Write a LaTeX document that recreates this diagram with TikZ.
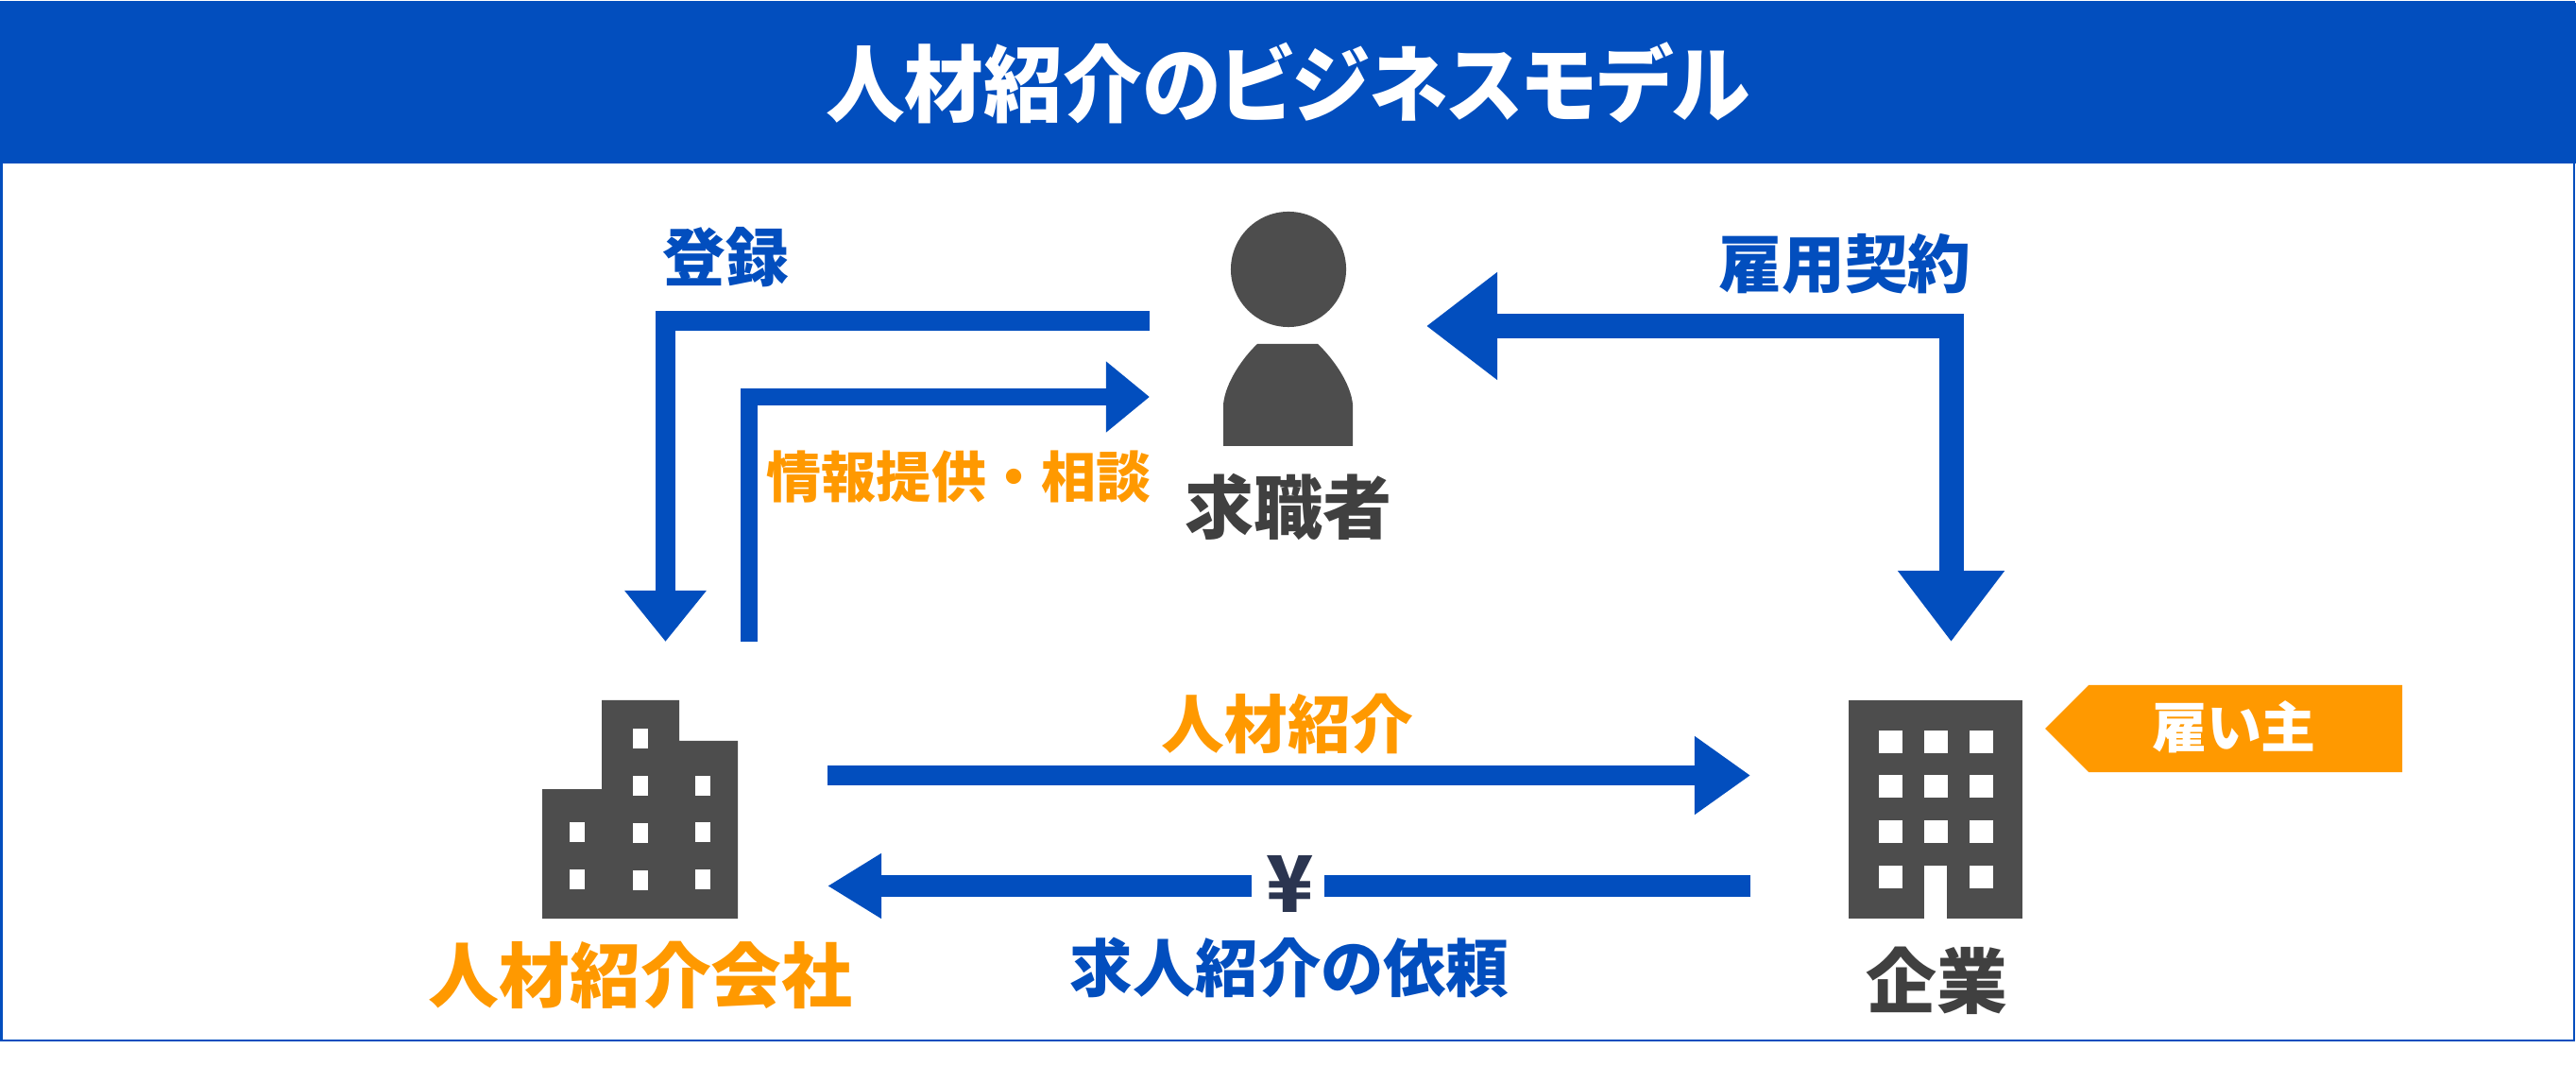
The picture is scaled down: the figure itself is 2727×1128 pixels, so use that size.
\documentclass[tikz,border=0pt]{standalone}
\usepackage{fontspec}
\setmainfont{Noto Sans CJK JP}
\newfontfamily\paltfont{Noto Sans CJK JP}[RawFeature=+palt]
\newfontfamily\titlefont{Noto Sans CJK JP}[RawFeature=+palt,FakeStretch=0.945]
\usetikzlibrary{arrows.meta}
\definecolor{mainblue}{HTML}{024EBE}
\definecolor{mainorange}{HTML}{FF9900}
\definecolor{icongray}{HTML}{4D4D4D}
\definecolor{textgray}{HTML}{404040}
\definecolor{yennavy}{HTML}{2B3550}

\begin{document}
\begin{tikzpicture}[x=0.01cm,y=-0.01cm]
            \tikzset{jptext/.style = {inner sep=0pt, font=\bfseries}}
            \tikzset{bluetext/.style = {jptext, text=mainblue}}
            \tikzset{orangetext/.style = {jptext, text=mainorange}}
            \tikzset{graytext/.style = {jptext, text=textgray}}
            \tikzset{flow/.style = {draw=mainblue, line width=.21cm}}
            \tikzset{icon/.style = {fill=icongray}}
            \useasboundingbox (0,0) rectangle (2727,1128);
            \fill[white] (0,0) rectangle (2727,1128);
            % frame and header
            \draw[mainblue, line width=.02cm] (1.5,2) rectangle (2725,1101);
            \fill[mainblue] (0,3) rectangle (2727,173);
            \node[jptext, text=white, font=\titlefont\bfseries\fontsize{25.2pt}{30pt}\selectfont] (title) at (1363,88) {人材紹介のビジネスモデル};
            % person
            \node[icon, circle, inner sep=0pt, minimum size=1.22cm] (head) at (1364,285) {};
            \fill[icon] (1295,472) -- (1295,428) .. controls (1297,405) and (1316,378) .. (1331,364) -- (1395,364) .. controls (1410,378) and (1430,405) .. (1432,428) -- (1432,472) -- cycle;
            \node[graytext, font=\bfseries\fontsize{20.8pt}{24pt}\selectfont] (seeker) at (1364,536) {求職者};
            % agency building
            \fill[icon] (574,972) -- (574,835) -- (637,835) -- (637,741) -- (719,741) -- (719,784) -- (781,784) -- (781,972) -- cycle;
            \foreach \x/\y in {670/771, 670/821, 736/821, 603/870, 670/871, 736/870, 603/920, 670/921, 736/920}
                \fill[white] (\x,\y) rectangle ++(16,21);
            \node[orangetext, font=\bfseries\fontsize{21.3pt}{24pt}\selectfont] (agency) at (678,1032) {人材紹介会社};
            % company building
            \fill[icon] (1957,741) rectangle (2141,972);
            \foreach \x in {1989,2037,2085}
                \foreach \y in {773,820,868}
                    \fill[white] (\x,\y) rectangle ++(25,24);
            \fill[white] (1989,916) rectangle ++(25,24);
            \fill[white] (2085,916) rectangle ++(25,24);
            \fill[white] (2037,916) rectangle (2061,972);
            \node[graytext, font=\bfseries\fontsize{21.3pt}{24pt}\selectfont] (company) at (2050,1038) {企業};
            % employer tag
            \fill[mainorange] (2165,771) -- (2211,725) -- (2543,725) -- (2543,817) -- (2211,817) -- cycle;
            \node[jptext, text=white, font=\paltfont\bfseries\fontsize{16.5pt}{20pt}\selectfont] (employer) at (2365,769) {雇い主};
            % arrow ends
            \coordinate (regstart) at (1217,339.5);
            \coordinate (regend) at (704.5,679);
            \coordinate (infostart) at (793,679);
            \coordinate (infoend) at (1217,420);
            \coordinate (contractA) at (1510,345);
            \coordinate (contractB) at (2065.5,679);
            \coordinate (introstart) at (876,820.5);
            \coordinate (introend) at (1853,820.5);
            \coordinate (feestart) at (1853,937.5);
            \coordinate (feeend) at (876,937.5);
            % arrows
            \draw[flow, -{Triangle[width=.83cm,length=.54cm]}] (regstart) -| (regend);
            \draw[flow, line width=.18cm, -{Triangle[width=.72cm,length=.46cm]}] (infostart) |- (infoend);
            \draw[flow, line width=.26cm, {Triangle[width=1.09cm,length=.75cm]}-{Triangle[width=1.08cm,length=.75cm]}] (contractA) -| (contractB);
            \draw[flow, -{Triangle[width=.79cm,length=.59cm]}] (introstart) -- (introend);
            \draw[flow, line width=.23cm, -{Triangle[width=.65cm,length=.57cm]}] (feestart) -- (feeend);
            % fee mark
            \fill[white] (1325,920) rectangle (1402,955);
            \node[jptext, text=yennavy, font=\bfseries\fontsize{23.5pt}{24pt}\selectfont] (yen) at (1366,936) {¥};
            % labels
            \node[bluetext, font=\bfseries\fontsize{19pt}{22pt}\selectfont] (reglabel) at (768,272) {登録};
            \node[orangetext, font=\bfseries\fontsize{16.5pt}{20pt}\selectfont] (infolabel) at (1015,505) {情報提供・相談};
            \node[bluetext, font=\bfseries\fontsize{19pt}{22pt}\selectfont] (contractlabel) at (1953,279) {雇用契約};
            \node[orangetext, font=\bfseries\fontsize{19pt}{22pt}\selectfont] (introlabel) at (1363,766) {人材紹介};
            \node[bluetext, font=\paltfont\bfseries\fontsize{18.9pt}{22pt}\selectfont] (requestlabel) at (1365,1024) {求人紹介の依頼};
        \end{tikzpicture}
\end{document}
